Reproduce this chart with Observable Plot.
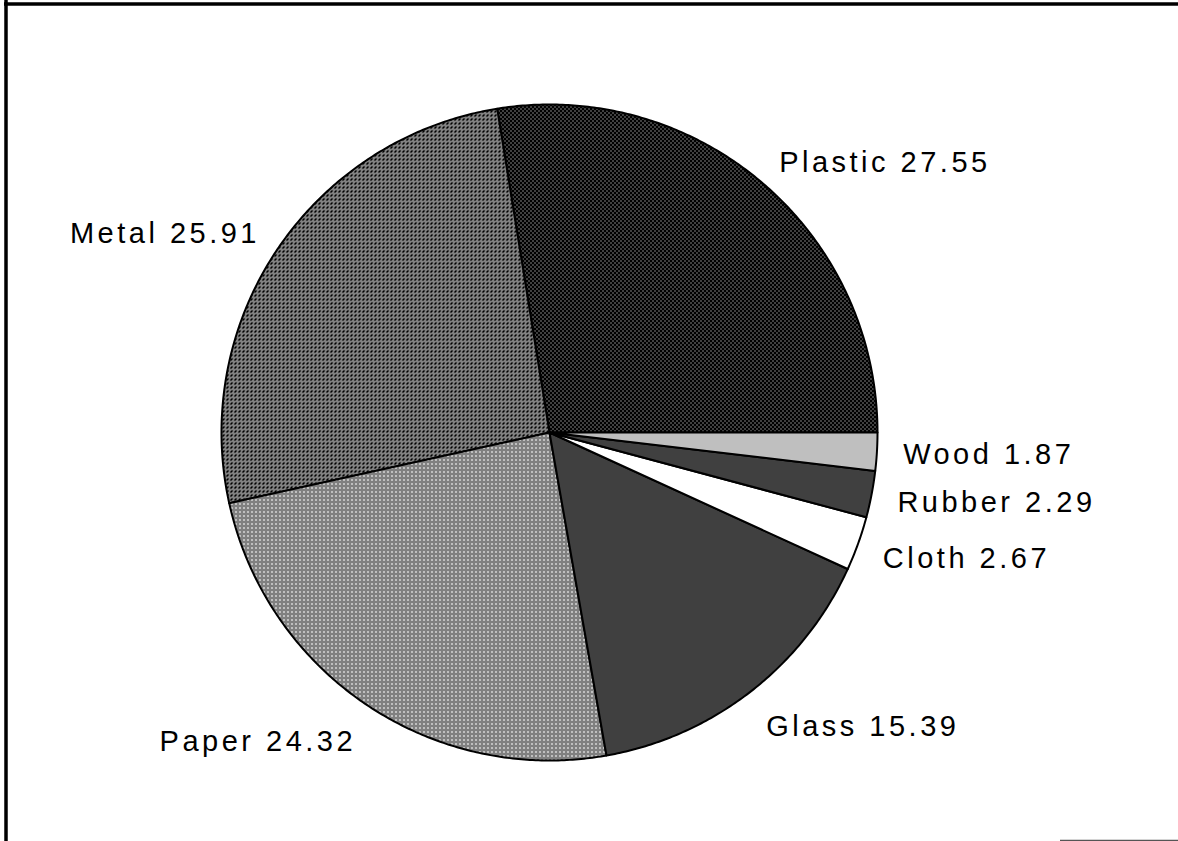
<!DOCTYPE html>
<html><head><meta charset="utf-8">
<script src="https://cdn.jsdelivr.net/npm/d3@7"></script>
<script src="https://cdn.jsdelivr.net/npm/@observablehq/plot@0.6"></script>
<style>body{margin:0;background:#fff} #chart svg{display:block}</style>
</head><body>
<svg width="0" height="0" style="position:absolute">
<defs>
<pattern id="pPlastic" width="4" height="4" patternUnits="userSpaceOnUse" shape-rendering="crispEdges"><rect width="4" height="4" fill="#000"/><rect x="0" y="0" width="1" height="1" fill="#fff"/><rect x="2" y="2" width="1" height="1" fill="#fff"/></pattern>
<pattern id="pMetal" width="4" height="4" patternUnits="userSpaceOnUse" shape-rendering="crispEdges"><rect width="4" height="4" fill="#000"/><rect x="1" y="0" width="1" height="1" fill="#fff"/><rect x="3" y="0" width="1" height="1" fill="#fff"/><rect x="0" y="1" width="1" height="1" fill="#fff"/><rect x="2" y="1" width="1" height="1" fill="#fff"/><rect x="1" y="2" width="1" height="1" fill="#fff"/><rect x="0" y="3" width="1" height="1" fill="#fff"/></pattern>
<pattern id="pPaper" width="4" height="4" patternUnits="userSpaceOnUse" shape-rendering="crispEdges"><rect width="4" height="4" fill="#fff"/><rect x="0" y="0" width="1" height="1" fill="#000"/><rect x="2" y="0" width="1" height="1" fill="#000"/><rect x="1" y="1" width="1" height="1" fill="#000"/><rect x="3" y="1" width="1" height="1" fill="#000"/><rect x="0" y="2" width="1" height="1" fill="#000"/><rect x="2" y="2" width="1" height="1" fill="#000"/><rect x="1" y="3" width="1" height="1" fill="#000"/></pattern>
<pattern id="pGlass" width="4" height="4" patternUnits="userSpaceOnUse" shape-rendering="crispEdges"><rect width="4" height="4" fill="#000"/><rect x="0" y="0" width="1" height="1" fill="#fff"/><rect x="2" y="0" width="1" height="1" fill="#fff"/><rect x="1" y="2" width="1" height="1" fill="#fff"/><rect x="3" y="2" width="1" height="1" fill="#fff"/></pattern>
<pattern id="pCloth" width="4" height="4" patternUnits="userSpaceOnUse"><rect width="4" height="4" fill="#fff"/></pattern>
<pattern id="pRubber" width="4" height="4" patternUnits="userSpaceOnUse" shape-rendering="crispEdges"><rect width="4" height="4" fill="#000"/><rect x="0" y="0" width="1" height="1" fill="#fff"/><rect x="2" y="0" width="1" height="1" fill="#fff"/><rect x="1" y="2" width="1" height="1" fill="#fff"/><rect x="3" y="2" width="1" height="1" fill="#fff"/></pattern>
<pattern id="pWood" width="4" height="4" patternUnits="userSpaceOnUse" shape-rendering="crispEdges"><rect width="4" height="4" fill="#fff"/><rect x="0" y="0" width="1" height="1" fill="#000"/><rect x="2" y="0" width="1" height="1" fill="#000"/><rect x="1" y="2" width="1" height="1" fill="#000"/><rect x="3" y="2" width="1" height="1" fill="#000"/></pattern>
</defs></svg>
<div id="chart"></div>
<script>
// Data
const categories = ["Plastic", "Metal", "Paper", "Glass", "Cloth", "Rubber", "Wood"];
const values = [27.55, 25.91, 24.32, 15.39, 2.67, 2.29, 1.87];

// Styles
const fillFor = {
  Plastic: "url(#pPlastic)", Metal: "url(#pMetal)", Paper: "url(#pPaper)",
  Glass: "url(#pGlass)", Cloth: "url(#pCloth)", Rubber: "url(#pRubber)", Wood: "url(#pWood)"
};

const W = 1178, H = 841, cx = 549, cy = 432, R = 328;
const total = d3.sum(values);

// Build slice polygons from cumulative angles (counter-clockwise from east)
let acc = 0;
const slices = categories.map((name, i) => {
  const a0 = acc / total * 2 * Math.PI;
  acc += values[i];
  const a1 = acc / total * 2 * Math.PI;
  const n = Math.max(4, Math.ceil((a1 - a0) / (Math.PI / 360)));
  const pts = [{x: 0, y: 0}];
  for (let k = 0; k <= n; k++) {
    const a = a0 + (a1 - a0) * k / n;
    pts.push({x: Math.cos(a), y: Math.sin(a)});
  }
  pts.push({x: 0, y: 0});
  const mid = (a0 + a1) / 2;
  const lr = 1.08;
  const label = {
    text: `${name} ${values[i].toFixed(2)}`,
    x: lr * Math.cos(mid),
    y: lr * Math.sin(mid) + 18 / R * Math.min(0, Math.sin(mid)),
    right: Math.cos(mid) >= 0
  };
  return {name, pts, label};
});

const labels = slices.map(s => s.label);

const xDomain = [-cx / R, (W - cx) / R];
const yDomain = [-(H - cy) / R, cy / R];

const chart = Plot.plot({
  width: W, height: H,
  margin: 0,
  x: {domain: xDomain, axis: null},
  y: {domain: yDomain, axis: null},
  style: "background:#fff; letter-spacing:3.5px;",
  marks: [
    ...slices.map(s => Plot.line(s.pts, {x: "x", y: "y", fill: fillFor[s.name], stroke: "black", strokeWidth: 2, strokeLinejoin: "round"})),
    Plot.text(labels.filter(d => d.right), {x: "x", y: "y", text: "text", textAnchor: "start", fontSize: 29, fontFamily: "Liberation Sans", fill: "black"}),
    Plot.text(labels.filter(d => !d.right), {x: "x", y: "y", text: "text", textAnchor: "end", fontSize: 29, fontFamily: "Liberation Sans", fill: "black", dx: 3.5}),
    Plot.ruleY([yDomain[1]], {dy: 3.5, strokeWidth: 3.5, stroke: "black", x1: (4 - cx) / R, x2: xDomain[1]}),
    Plot.ruleX([xDomain[0]], {dx: 5.5, strokeWidth: 3.5, stroke: "black", y1: yDomain[0], y2: yDomain[1]}),
    Plot.ruleY([yDomain[0]], {dy: -1, strokeWidth: 1.5, stroke: "#555", x1: (1060 - cx) / R, x2: xDomain[1]})
  ]
});
document.getElementById("chart").appendChild(chart);
</script>
</body></html>
